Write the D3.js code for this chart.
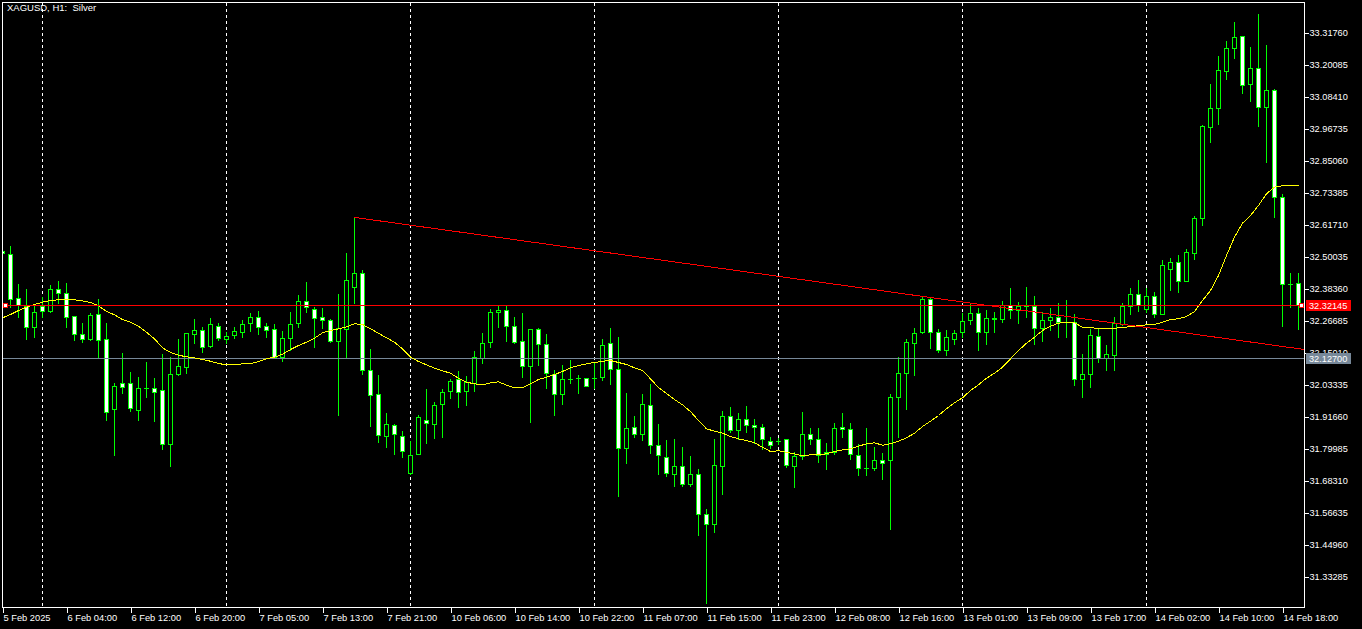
<!DOCTYPE html>
<html><head><meta charset="utf-8">
<script src="https://cdn.jsdelivr.net/npm/d3@7"></script>
<style>
html,body{margin:0;padding:0;background:#000;overflow:hidden}
svg{display:block}
</style></head><body>
<svg id="c" width="1362" height="629"></svg>
<script>
const title = "XAGUSD, H1:  Silver";
const opens = [32.519,32.509,32.346,32.318,32.240,32.317,32.299,32.379,32.364,32.280,
32.215,32.198,32.288,32.196,31.941,32.036,32.036,31.937,32.018,32.018,
32.010,31.813,32.069,32.096,32.215,32.230,32.173,32.246,32.196,32.211,
32.224,32.257,32.277,32.244,32.235,32.133,32.202,32.255,32.335,32.306,
32.277,32.266,32.191,32.233,32.386,32.437,32.083,31.996,31.845,31.883,
31.843,31.707,31.779,31.903,31.886,31.959,32.007,32.050,32.007,32.036,
32.129,32.188,32.295,32.302,32.244,32.189,32.100,32.233,32.178,32.071,
31.996,32.050,32.055,32.054,32.055,32.058,32.182,32.087,31.799,31.875,
31.850,31.956,31.810,31.766,31.706,31.733,31.667,31.704,31.559,31.521,
31.733,31.916,31.864,31.906,31.883,31.875,31.824,31.827,31.832,31.733,
31.772,31.850,31.832,31.777,31.784,31.875,31.868,31.773,31.727,31.728,
31.755,31.755,31.985,32.072,32.182,32.224,32.342,32.222,32.158,32.199,
32.223,32.266,32.291,32.222,32.269,32.269,32.320,32.302,32.318,32.317,
32.237,32.266,32.277,32.260,32.258,32.050,32.069,32.207,32.127,32.139,
32.251,32.318,32.363,32.306,32.356,32.290,32.454,32.477,32.410,32.512,
32.638,32.970,33.041,33.176,33.258,33.302,33.129,33.185,33.043,33.105,
32.714,32.399,32.401];
const highs = [32.520,32.537,32.398,32.379,32.318,32.352,32.395,32.409,32.402,32.281,
32.255,32.291,32.342,32.255,32.036,32.145,32.076,32.059,32.113,32.056,
32.143,32.133,32.198,32.219,32.270,32.240,32.274,32.256,32.224,32.242,
32.267,32.294,32.300,32.256,32.252,32.227,32.296,32.358,32.406,32.315,
32.310,32.270,32.362,32.511,32.643,32.449,32.161,32.066,31.928,31.887,
31.862,31.827,31.920,32.015,31.968,32.015,32.053,32.081,32.062,32.154,
32.220,32.307,32.319,32.319,32.277,32.292,32.234,32.239,32.216,32.084,
32.103,32.121,32.066,32.056,32.109,32.198,32.238,32.205,32.000,31.917,
31.996,32.032,31.886,31.829,31.834,31.805,31.771,31.723,31.577,31.833,
31.935,31.948,31.926,31.953,31.906,31.886,31.839,31.837,31.833,31.786,
31.931,31.873,31.873,31.817,31.891,31.928,31.890,31.813,31.873,31.805,
31.782,31.997,32.132,32.196,32.237,32.354,32.350,32.234,32.230,32.230,
32.291,32.328,32.311,32.303,32.296,32.335,32.384,32.331,32.387,32.354,
32.296,32.311,32.328,32.339,32.288,32.142,32.234,32.239,32.176,32.278,
32.328,32.383,32.412,32.383,32.368,32.485,32.492,32.504,32.526,32.647,
32.978,33.128,33.230,33.285,33.353,33.303,33.263,33.383,33.269,33.110,
32.727,32.438,32.438];
const lows = [32.509,32.314,32.279,32.196,32.204,32.277,32.297,32.330,32.242,32.194,
32.188,32.194,32.133,31.902,31.774,32.002,31.936,31.902,31.987,31.899,
31.796,31.735,32.067,32.075,32.182,32.151,32.167,32.194,32.182,32.200,
32.206,32.228,32.217,32.206,32.128,32.118,32.157,32.242,32.295,32.169,
32.239,32.187,31.920,32.133,32.330,32.071,31.881,31.823,31.805,31.777,
31.767,31.705,31.777,31.817,31.835,31.841,31.983,31.948,31.957,32.009,
32.111,32.169,32.242,32.191,32.184,32.060,31.896,32.103,32.020,31.920,
31.960,32.038,32.002,32.026,32.018,32.048,32.033,31.626,31.746,31.841,
31.829,31.783,31.706,31.699,31.662,31.662,31.662,31.482,31.235,31.492,
31.633,31.859,31.832,31.857,31.819,31.795,31.801,31.814,31.732,31.659,
31.759,31.814,31.750,31.724,31.777,31.841,31.759,31.701,31.701,31.720,
31.687,31.503,31.839,31.941,32.067,32.218,32.166,32.150,32.139,32.178,
32.204,32.251,32.158,32.178,32.222,32.258,32.274,32.255,32.277,32.178,
32.189,32.230,32.204,32.204,32.031,31.985,32.023,32.115,32.084,32.084,
32.249,32.289,32.301,32.296,32.279,32.288,32.376,32.370,32.408,32.489,
32.613,32.917,32.982,33.147,33.224,33.096,33.067,32.976,32.844,32.643,
32.246,32.315,32.234];
const closes = [32.511,32.345,32.322,32.240,32.295,32.299,32.379,32.364,32.279,32.215,
32.199,32.284,32.193,31.930,32.025,32.023,31.945,32.018,32.018,32.005,
31.813,32.069,32.098,32.218,32.230,32.169,32.251,32.202,32.208,32.226,
32.252,32.277,32.242,32.229,32.131,32.200,32.252,32.335,32.314,32.273,
32.268,32.189,32.237,32.412,32.437,32.083,31.992,31.847,31.886,31.850,
31.790,31.773,31.913,31.890,31.956,32.005,32.043,32.003,32.040,32.131,
32.182,32.295,32.302,32.244,32.188,32.100,32.233,32.178,32.072,31.998,
32.050,32.050,32.055,32.027,32.055,32.175,32.087,31.799,31.872,31.850,
31.959,31.810,31.773,31.707,31.734,31.667,31.704,31.558,31.521,31.737,
31.916,31.864,31.906,31.883,31.875,31.832,31.810,31.827,31.739,31.771,
31.850,31.832,31.773,31.784,31.872,31.868,31.777,31.726,31.727,31.755,
31.746,31.985,32.072,32.185,32.218,32.342,32.222,32.158,32.204,32.218,
32.262,32.291,32.222,32.273,32.273,32.322,32.303,32.317,32.318,32.237,
32.266,32.277,32.258,32.260,32.050,32.069,32.211,32.127,32.142,32.255,
32.318,32.361,32.322,32.353,32.288,32.466,32.478,32.410,32.514,32.638,
32.974,33.039,33.178,33.258,33.298,33.123,33.185,33.043,33.105,32.714,
32.397,32.399,32.32145];
const maValues = [32.2767,32.2887,32.3033,32.3153,32.3252,32.3336,32.3398,32.3424,32.3424,32.3424,
32.3387,32.3325,32.3205,32.2997,32.2876,32.2704,32.2606,32.2460,32.2241,32.2000,
32.1672,32.1501,32.1402,32.1344,32.1307,32.1245,32.1183,32.1099,32.1052,32.1052,
32.1088,32.1088,32.1172,32.1271,32.1330,32.1439,32.1610,32.1756,32.1877,32.2022,
32.2219,32.2303,32.2365,32.2438,32.2548,32.2522,32.2365,32.2205,32.2037,32.1877,
32.1636,32.1330,32.1172,32.1052,32.0928,32.0833,32.0745,32.0563,32.0417,32.0359,
32.0322,32.0395,32.0432,32.0307,32.0212,32.0212,32.0359,32.0516,32.0600,32.0698,
32.0808,32.0943,32.1026,32.1088,32.1136,32.1183,32.1209,32.1136,32.1063,32.0943,
32.0844,32.0541,32.0223,32.0005,31.9786,31.9592,31.9348,31.9019,31.8717,31.8629,
31.8556,31.8436,31.8352,31.8290,31.8206,31.8045,31.7888,31.7914,31.7863,31.7804,
31.7732,31.7768,31.7768,31.7804,31.7888,31.7950,31.7987,31.8082,31.8170,31.8206,
31.8118,31.8170,31.8265,31.8389,31.8556,31.8801,31.8994,31.9202,31.9447,31.9666,
31.9848,32.0115,32.0323,32.0563,32.0745,32.0964,32.1271,32.1574,32.1840,32.2059,
32.2303,32.2460,32.2570,32.2606,32.2584,32.2423,32.2413,32.2376,32.2376,32.2387,
32.2413,32.2449,32.2474,32.2511,32.2522,32.2606,32.2704,32.2730,32.2814,32.2997,
32.3398,32.3763,32.4311,32.5040,32.5708,32.6219,32.6500,32.6865,32.7292,32.7533,
32.7584,32.7584,32.7584];
const xLabelIdx = [0,8,16,24,32,40,48,56,64,72,80,88,96,104,112,120,128,136,144,152,160];
const xLabels = ["5 Feb 2025","6 Feb 04:00","6 Feb 12:00","6 Feb 20:00","7 Feb 05:00","7 Feb 13:00","7 Feb 21:00",
"10 Feb 06:00","10 Feb 14:00","10 Feb 22:00","11 Feb 07:00","11 Feb 15:00","11 Feb 23:00","12 Feb 08:00",
"12 Feb 16:00","13 Feb 01:00","13 Feb 09:00","13 Feb 17:00","14 Feb 02:00","14 Feb 10:00","14 Feb 18:00"];
const daySepIdx = [5,28,51,74,97,120,143];
const yTicks = [33.31760,33.20085,33.08410,32.96735,32.85060,32.73385,32.61710,32.50035,32.38360,
32.26685,32.15010,32.03335,31.91660,31.79985,31.68310,31.56635,31.44960,31.33285];
const bidPrice = 32.32145;
const greyLinePrice = 32.12700;
const trendIdx = [44, 162];
const trendPrice = [32.643, 32.164];

const W = 1362, H = 629;
const FONT = "'Liberation Sans', Arial, sans-serif";
const GREEN = "#00ff00";
const svg = d3.select("#c");
const n = opens.length;
const x = d3.scaleLinear().domain([0, n - 1]).range([2, 2 + 8 * (n - 1)]);
const y = d3.scaleLinear().domain([yTicks[yTicks.length - 1], yTicks[0]]).range([576, 32]);
const row = p => Math.round(y(p));

svg.append("rect").attr("width", W).attr("height", H).attr("fill", "#000");
const defs = svg.append("defs");
defs.append("clipPath").attr("id", "clip").append("rect")
  .attr("x", 3).attr("y", 3).attr("width", 1301).attr("height", 604);

const g = svg.append("g").attr("clip-path", "url(#clip)").attr("shape-rendering", "crispEdges");

// day separators
g.selectAll("line.sep").data(daySepIdx).enter().append("line").attr("class", "sep")
  .attr("x1", d => x(d) + 0.5).attr("x2", d => x(d) + 0.5)
  .attr("y1", 3).attr("y2", 606)
  .attr("stroke", "#fff").attr("stroke-width", 1).attr("stroke-dasharray", "3,3");

// candles
const idx = d3.range(n);
const cg = g.append("g");
cg.selectAll("rect.wick").data(idx).enter().append("rect").attr("class", "wick")
  .attr("x", k => x(k)).attr("width", 1)
  .attr("y", k => row(highs[k]))
  .attr("height", k => row(lows[k]) - row(highs[k]) + 1)
  .attr("fill", GREEN);
cg.selectAll("rect.body").data(idx).enter().append("rect").attr("class", "body")
  .attr("x", k => x(k) - 2).attr("width", 5)
  .attr("y", k => Math.min(row(opens[k]), row(closes[k])))
  .attr("height", k => Math.abs(row(opens[k]) - row(closes[k])) + 1)
  .attr("fill", GREEN);
cg.selectAll("rect.inner").data(idx.filter(k => Math.abs(row(opens[k]) - row(closes[k])) >= 2))
  .enter().append("rect").attr("class", "inner")
  .attr("x", k => x(k) - 1).attr("width", 3)
  .attr("y", k => Math.min(row(opens[k]), row(closes[k])) + 1)
  .attr("height", k => Math.abs(row(opens[k]) - row(closes[k])) - 1)
  .attr("fill", k => closes[k] < opens[k] ? "#fff" : "#000");

// grey horizontal line
g.append("rect").attr("x", 2).attr("width", 1302).attr("y", row(greyLinePrice)).attr("height", 1).attr("fill", "#778899");

// moving average
const maLine = d3.line().x((d, i) => x(i) + 0.5).y(d => y(d) + 0.5);
g.append("path").datum(maValues).attr("d", maLine)
  .attr("fill", "none").attr("stroke", "#ffff00").attr("stroke-width", 1);

// trendline (ray)
const slope = (trendPrice[1] - trendPrice[0]) / (trendIdx[1] - trendIdx[0]);
const kEnd = x.invert(1305);
g.append("line")
  .attr("x1", x(trendIdx[0]) + 0.5).attr("y1", y(trendPrice[0]) + 0.5)
  .attr("x2", x(kEnd) + 0.5).attr("y2", y(trendPrice[0] + slope * (kEnd - trendIdx[0])) + 0.5)
  .attr("stroke", "#ff0000").attr("stroke-width", 1);

// bid line
const bidRow = row(bidPrice);
g.append("rect").attr("x", 2).attr("width", 1302).attr("y", bidRow).attr("height", 1).attr("fill", "#ff0000");
[3, x(n - 1) + 1].forEach(hx => {
  g.append("rect").attr("x", hx + 0.5).attr("y", bidRow - 2 + 0.5).attr("width", 4).attr("height", 4)
    .attr("fill", "#fff").attr("stroke", "#ff0000").attr("stroke-width", 1);
});

// frame
const fr = svg.append("g").attr("shape-rendering", "crispEdges");
fr.append("rect").attr("x", 2).attr("y", 2).attr("width", 1303).attr("height", 1).attr("fill", "#fff");
fr.append("rect").attr("x", 2).attr("y", 2).attr("width", 1).attr("height", 606).attr("fill", "#fff");
fr.append("rect").attr("x", 1304).attr("y", 2).attr("width", 1).attr("height", 606).attr("fill", "#fff");
fr.append("rect").attr("x", 2).attr("y", 607).attr("width", 1303).attr("height", 1).attr("fill", "#fff");

// right axis
const ya = svg.append("g").attr("transform", "translate(1304.5,0.5)")
  .call(d3.axisRight(y).tickValues(yTicks).tickFormat(d3.format(".5f")).tickSize(4).tickPadding(1));
ya.select(".domain").remove();
ya.selectAll("line").attr("stroke", "#fff").attr("shape-rendering", "crispEdges");
ya.selectAll("text").attr("fill", "#fff").attr("font-family", FONT).attr("font-size", "9.2px");
ya.attr("font-family", FONT);

// bottom axis
const xa = svg.append("g").attr("transform", "translate(0.5,607)")
  .call(d3.axisBottom(x).tickValues(xLabelIdx).tickFormat((d, i) => xLabels[i]).tickSize(6));
xa.select(".domain").remove();
xa.selectAll("line").attr("stroke", "#fff").attr("shape-rendering", "crispEdges");
xa.selectAll("text").attr("fill", "#fff").attr("font-family", FONT).attr("font-size", "9.3px")
  .attr("text-anchor", "start").attr("x", 0.5).attr("y", 14).attr("dy", 0);

// price boxes
function priceBox(p, fill, txtFill) {
  const r = row(p);
  svg.append("rect").attr("x", 1306).attr("y", r - 5).attr("width", 45).attr("height", 11)
    .attr("fill", fill).attr("shape-rendering", "crispEdges");
  svg.append("text").attr("x", 1309).attr("y", r + 4).attr("fill", txtFill)
    .attr("font-family", FONT).attr("font-size", "9.2px").text(d3.format(".5f")(p));
}
priceBox(greyLinePrice, "#778899", "#fff");
priceBox(bidPrice, "#ff0000", "#fff");

// title
svg.append("text").attr("x", 7).attr("y", 11).attr("fill", "#fff")
  .attr("font-family", FONT).attr("font-size", "9.5px").style("white-space", "pre").text(title);
</script>
</body></html>
